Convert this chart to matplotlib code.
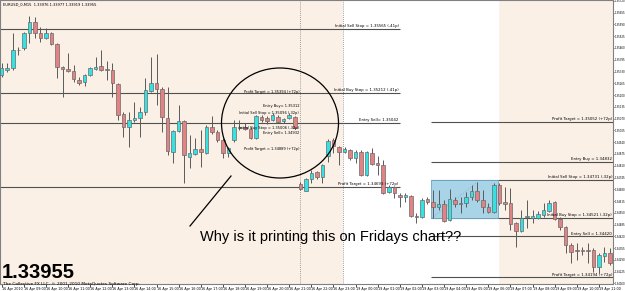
import matplotlib
matplotlib.use("Agg")
import matplotlib.pyplot as plt
from matplotlib.patches import Rectangle, Ellipse
from matplotlib.ticker import MultipleLocator, FormatStrFormatter

# EURUSD M15 candles, 16 Apr 2010 08:00 -> 19 Apr 11:30
opens = [1.35311, 1.35339, 1.35350, 1.35449, 1.35460, 1.35543, 1.35604, 1.35543, 1.35515, 1.35543,
         1.35482, 1.35355, 1.35344, 1.35333, 1.35283, 1.35272, 1.35311, 1.35344, 1.35361, 1.35344,
         1.35339, 1.35261, 1.35096, 1.35024, 1.35063, 1.35074, 1.35107, 1.35223, 1.35267, 1.35234,
         1.35074, 1.34886, 1.35002, 1.35057, 1.34858, 1.34875, 1.34903, 1.34880, 1.35024, 1.34996,
         1.34952, 1.34880, 1.34952, 1.35024, 1.35024, 1.35013, 1.34963, 1.35079, 1.35074, 1.35063,
         1.35079, 1.35057, 1.35074, 1.35079, 1.34709, 1.34671, 1.34737, 1.34776, 1.34748, 1.34864,
         1.34952, 1.34914, 1.34886, 1.34897, 1.34853, 1.34886, 1.34759, 1.34880, 1.34825, 1.34814,
         1.34665, 1.34693, 1.34649, 1.34638, 1.34643, 1.34533, 1.34527, 1.34627, 1.34610, 1.34582,
         1.34599, 1.34511, 1.34621, 1.34604, 1.34604, 1.34638, 1.34671, 1.34621, 1.34582, 1.34555,
         1.34704, 1.34610, 1.34604, 1.34494, 1.34450, 1.34527, 1.34522, 1.34522, 1.34538, 1.34560,
         1.34610, 1.34516, 1.34472, 1.34373, 1.34345, 1.34345, 1.34345, 1.34345, 1.34251, 1.34312,
         1.34328]
highs = [1.35377, 1.35377, 1.35543, 1.35466, 1.35548, 1.35637, 1.35631, 1.35576, 1.35570, 1.35548,
         1.35488, 1.35361, 1.35432, 1.35366, 1.35300, 1.35317, 1.35355, 1.35410, 1.35449, 1.35388,
         1.35377, 1.35267, 1.35107, 1.35107, 1.35162, 1.35134, 1.35294, 1.35410, 1.35427, 1.35245,
         1.35245, 1.35007, 1.35145, 1.35063, 1.34980, 1.34963, 1.35007, 1.35035, 1.35085, 1.35007,
         1.34963, 1.34914, 1.35063, 1.35063, 1.35046, 1.35024, 1.35090, 1.35090, 1.35085, 1.35101,
         1.35090, 1.35074, 1.35101, 1.35085, 1.34720, 1.34742, 1.34787, 1.34781, 1.34820, 1.34958,
         1.34963, 1.34919, 1.34914, 1.34903, 1.34897, 1.34897, 1.34891, 1.34908, 1.34864, 1.34842,
         1.34704, 1.34698, 1.34660, 1.34660, 1.34649, 1.34549, 1.34632, 1.34638, 1.34676, 1.34676,
         1.34621, 1.34682, 1.34638, 1.34638, 1.34665, 1.34704, 1.34720, 1.34676, 1.34604, 1.34715,
         1.34715, 1.34693, 1.34687, 1.34500, 1.34566, 1.34621, 1.34566, 1.34560, 1.34604, 1.34621,
         1.34615, 1.34527, 1.34477, 1.34384, 1.34384, 1.34362, 1.34384, 1.34356, 1.34328, 1.34362,
         1.34356]
lows = [1.35300, 1.35328, 1.35339, 1.35421, 1.35449, 1.35488, 1.35515, 1.35493, 1.35510, 1.35477,
        1.35294, 1.35190, 1.35328, 1.35272, 1.35256, 1.35250, 1.35305, 1.35339, 1.35333, 1.35283,
        1.35190, 1.35063, 1.34969, 1.34914, 1.35052, 1.34969, 1.35090, 1.35217, 1.35145, 1.34996,
        1.34869, 1.34825, 1.34996, 1.34715, 1.34798, 1.34869, 1.34803, 1.34875, 1.34985, 1.34941,
        1.34853, 1.34858, 1.34941, 1.35007, 1.35007, 1.34958, 1.34958, 1.35052, 1.35041, 1.35057,
        1.35046, 1.35046, 1.35068, 1.35013, 1.34676, 1.34671, 1.34715, 1.34737, 1.34715, 1.34831,
        1.34880, 1.34814, 1.34880, 1.34842, 1.34825, 1.34753, 1.34753, 1.34814, 1.34759, 1.34654,
        1.34660, 1.34632, 1.34582, 1.34610, 1.34527, 1.34494, 1.34522, 1.34599, 1.34522, 1.34566,
        1.34500, 1.34505, 1.34582, 1.34549, 1.34582, 1.34621, 1.34610, 1.34549, 1.34549, 1.34549,
        1.34593, 1.34566, 1.34455, 1.34362, 1.34444, 1.34466, 1.34494, 1.34516, 1.34527, 1.34555,
        1.34511, 1.34455, 1.34328, 1.34273, 1.34290, 1.34317, 1.34273, 1.34224, 1.34218, 1.34279,
        1.34262]
closes = [1.35350, 1.35350, 1.35449, 1.35449, 1.35543, 1.35604, 1.35543, 1.35515, 1.35543, 1.35482,
          1.35355, 1.35344, 1.35333, 1.35289, 1.35267, 1.35311, 1.35350, 1.35355, 1.35339, 1.35339,
          1.35267, 1.35090, 1.35024, 1.35063, 1.35074, 1.35107, 1.35228, 1.35267, 1.35234, 1.35079,
          1.34891, 1.35002, 1.35057, 1.34869, 1.34880, 1.34903, 1.34886, 1.35024, 1.34996, 1.34952,
          1.34880, 1.34908, 1.35024, 1.35018, 1.35013, 1.34963, 1.35085, 1.35063, 1.35057, 1.35090,
          1.35052, 1.35068, 1.35090, 1.35018, 1.34682, 1.34737, 1.34770, 1.34748, 1.34814, 1.34947,
          1.34919, 1.34886, 1.34903, 1.34853, 1.34886, 1.34759, 1.34886, 1.34820, 1.34814, 1.34660,
          1.34693, 1.34660, 1.34638, 1.34649, 1.34533, 1.34527, 1.34621, 1.34610, 1.34582, 1.34599,
          1.34505, 1.34627, 1.34599, 1.34599, 1.34638, 1.34671, 1.34621, 1.34582, 1.34555, 1.34704,
          1.34604, 1.34599, 1.34489, 1.34450, 1.34522, 1.34533, 1.34533, 1.34544, 1.34566, 1.34604,
          1.34516, 1.34472, 1.34373, 1.34334, 1.34339, 1.34339, 1.34339, 1.34251, 1.34317, 1.34328,
          1.34273]

time_labels = ["16 Apr 2010", "16 Apr 09:00", "16 Apr 10:00", "16 Apr 11:00", "16 Apr 12:00",
               "16 Apr 13:00", "16 Apr 14:00", "16 Apr 15:00", "16 Apr 16:00", "16 Apr 17:00",
               "16 Apr 18:00", "16 Apr 19:00", "16 Apr 20:00", "16 Apr 21:00", "16 Apr 22:00",
               "16 Apr 23:00", "19 Apr 00:00", "19 Apr 01:00", "19 Apr 02:00", "19 Apr 03:00",
               "19 Apr 04:00", "19 Apr 05:00", "19 Apr 06:00", "19 Apr 07:00", "19 Apr 08:00",
               "19 Apr 09:00", "19 Apr 10:00", "19 Apr 11:00"]

# levels drawn by the EA on friday (left) and monday (right)
friday_levels = [1.35565, 1.35212, 1.35046, 1.34693]
friday_texts = ["Initial Sell Stop = 1.35565 (-41p)", "Initial Buy Stop = 1.35212 (-41p)",
                "Entry Sell= 1.35042", "Profit Target = 1.34693 (+72p)"]
mini_levels = [1.35217, 1.35140, 1.35101, 1.35018, 1.34991, 1.34903]
mini_texts = ["Profit Target = 1.35394 (+72p)", "Entry Buy= 1.35312",
              "Initial Sell Stop = 1.35096 (-32p)", "Initial Buy Stop = 1.35006 (-32p)",
              "Entry Sell= 1.34932", "Profit Target = 1.34889 (+72p)"]
monday_levels = [1.35052, 1.34832, 1.34731, 1.34521, 1.34420, 1.34194]
monday_texts = ["Profit Target = 1.35052 (+72p)", "Entry Buy = 1.34832",
                "Initial Sell Stop = 1.34731 (-32p)", "Initial Buy Stop = 1.34521 (-32p)",
                "Entry Sell = 1.34420", "Profit Target = 1.34194 (+72p)"]
box_low, box_high = 1.34521, 1.34731

BG = "#faf0e6"
BULL = "#33e3e3"
BEAR = "#e28282"

fig = plt.figure(figsize=(6.25, 2.91), dpi=100)
fig.patch.set_facecolor("white")
ax = fig.add_axes([0, 7 / 291, 613 / 625, 284 / 291])
ax.set_facecolor(BG)
ax.set_xlim(-0.31, 110.55)
ax.set_ylim(1.34157, 1.35725)

# white session block + separators
ax.axvspan(61.7, 89.7, color="white", zorder=0)
for xv in (53.9, 61.7):
    ax.axvline(xv, color="#808080", lw=0.6, ls=(0, (1, 1.5)), zorder=1)

# friday levels
for lv, txt in zip(friday_levels, friday_texts):
    ax.hlines(lv, -0.31, 72.0, color="#505050", lw=0.8, zorder=1)
    ax.text(71.8, lv + 0.00004, txt, ha="right", va="bottom", fontsize=2.8, zorder=4)
for lv, txt in zip(mini_levels, mini_texts):
    ax.text(53.8, lv, txt, ha="right", va="center", fontsize=2.6, zorder=4)

# monday box + levels
ax.add_patch(Rectangle((77.6, box_low), 12.1, box_high - box_low,
                       facecolor="#a9d4e8", edgecolor="#6aa6c4", lw=0.6, zorder=1.5))
ax.plot([77.8, 86.5], [box_low, box_high], color="#7fb0c8", lw=0.6, ls=":", zorder=1.6)
for lv, txt in zip(monday_levels, monday_texts):
    ax.hlines(lv, 77.6, 110.55, color="#505050", lw=0.8, zorder=1)
    ax.text(110.4, lv + 0.00004, txt, ha="right", va="bottom", fontsize=2.8, zorder=4)

# candles
x = list(range(len(opens)))
ax.vlines(x, lows, highs, color="#5a5a5a", lw=0.7, zorder=3)
bottoms = [min(o, c) for o, c in zip(opens, closes)]
heights = [abs(c - o) for o, c in zip(opens, closes)]
colors = [BULL if c > o else BEAR for o, c in zip(opens, closes)]
ax.bar(x, heights, bottom=bottoms, width=0.64, color=colors,
       edgecolor="#6a6a6a", linewidth=0.5, zorder=3.5)

# circle + pointer
ax.add_patch(Ellipse((280 / 613, 1 - 123 / 284), 117 / 613, 110 / 284,
                     transform=ax.transAxes, fill=False, ec="black", lw=0.9, zorder=5))
ax.plot([231 / 613, 190 / 613], [1 - 176 / 284, 1 - 226 / 284],
        transform=ax.transAxes, color="black", lw=0.9, zorder=5)

# axes look
ax.yaxis.tick_right()
ax.yaxis.set_major_locator(MultipleLocator(0.00065))
ax.yaxis.set_major_formatter(FormatStrFormatter("%.5f"))
ax.tick_params(axis="y", labelsize=1.9, length=0.8, width=0.5, pad=0.4, colors="black")
ax.set_xticks([4 * k for k in range(len(time_labels))])
ax.set_xticklabels(time_labels, ha="left")
ax.tick_params(axis="x", labelsize=2.4, length=2, width=0.5, pad=0.5)
for s in ax.spines.values():
    s.set_color("#808080")
    s.set_linewidth(0.8)

fig.text(3 / 625, 1 - 4 / 291, "EURUSD_0,M15  1.33976 1.33977 1.33919 1.33955",
         fontsize=2.6, va="center")
fig.text(2 / 625, 1 - 277.5 / 291, "1.33955", fontsize=14.5, fontweight="bold",
         family="Liberation Sans", va="baseline")
fig.text(3 / 625, 1 - 285 / 291,
         "The Collective FX LLC, \u00a9 2001-2010 MetaQuotes Software Corp.",
         fontsize=3.1, va="baseline", zorder=6)
fig.text(200 / 625, 1 - 237 / 291, "Why is it printing this on Fridays chart??",
         fontsize=10.5, family="Liberation Sans", va="center")

fig.savefig("out.png", dpi=100)
